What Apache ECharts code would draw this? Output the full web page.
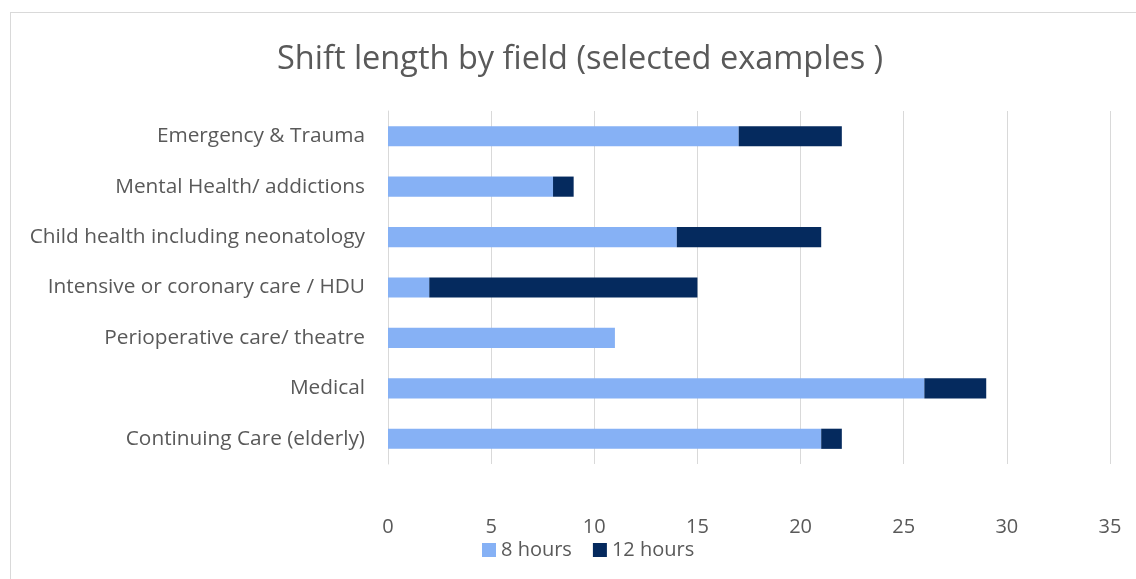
<!DOCTYPE html>
<html lang="en">
<head>
    <meta charset="UTF-8">
    <title>Shift length by field</title>
    <style>
        body { margin: 0; background: #fff; }
        #frame { position: absolute; left: 10px; top: 12px; width: 1140px; height: 580px; border: 1px solid #d9d9d9; box-sizing: border-box; }
        #main { position: absolute; left: 0; top: 0; width: 1136px; height: 579px; }
    </style>
</head>
<body>
<div id="frame"></div>
<div id="main"></div>
<script type="text/javascript" src="https://cdn.jsdelivr.net/npm/echarts@6/dist/echarts.min.js"></script>
<script type="text/javascript">
    // categories listed bottom to top (category axis starts at the bottom)
    var categories = ["Continuing Care (elderly)", "Medical", "Perioperative care/ theatre",
        "Intensive or coronary care / HDU", "Child health including neonatology",
        "Mental Health/ addictions", "Emergency & Trauma"];
    var eightHours = [21, 26, 11, 2, 14, 8, 17];
    var twelveHours = [1, 3, 0, 13, 7, 1, 5];
    var xTicks = [0, 5, 10, 15, 20, 25, 30, 35];

    var textColor = '#595959';
    var fontName = 'Open Sans';

    var myChart = echarts.init(document.getElementById('main'));
    var option = {
        textStyle: { fontFamily: fontName },
        title: {
            text: 'Shift length by field (selected examples )',
            left: 272,
            top: 38,
            textStyle: { fontSize: 32.5, fontWeight: 'normal', color: textColor, fontFamily: fontName }
        },
        legend: {
            data: ['8 hours', '12 hours'],
            top: 535,
            left: 477,
            itemWidth: 14,
            itemHeight: 14,
            itemGap: 21,
            icon: 'rect',
            textStyle: { fontSize: 20, color: textColor, fontFamily: fontName }
        },
        grid: { left: 388, right: 26, top: 111, bottom: 115 },
        xAxis: {
            type: 'value',
            min: xTicks[0],
            max: xTicks[xTicks.length - 1],
            interval: 5,
            axisLine: { show: false },
            axisTick: { show: false },
            splitLine: { lineStyle: { color: '#d9d9d9', width: 1 } },
            axisLabel: { color: textColor, fontSize: 20, margin: 53, fontFamily: fontName }
        },
        yAxis: {
            type: 'category',
            data: categories,
            axisLine: { show: true, lineStyle: { color: '#d9d9d9' } },
            axisTick: { show: false },
            axisLabel: { color: textColor, fontSize: 20.8, margin: 23, fontFamily: fontName }
        },
        series: [{
            name: '8 hours',
            type: 'bar',
            stack: 'total',
            barWidth: '40%',
            itemStyle: { color: '#86b1f5' },
            data: eightHours
        }, {
            name: '12 hours',
            type: 'bar',
            stack: 'total',
            barWidth: '40%',
            itemStyle: { color: '#052a5e' },
            data: twelveHours
        }]
    };
    myChart.setOption(option);
</script>
</body>
</html>
